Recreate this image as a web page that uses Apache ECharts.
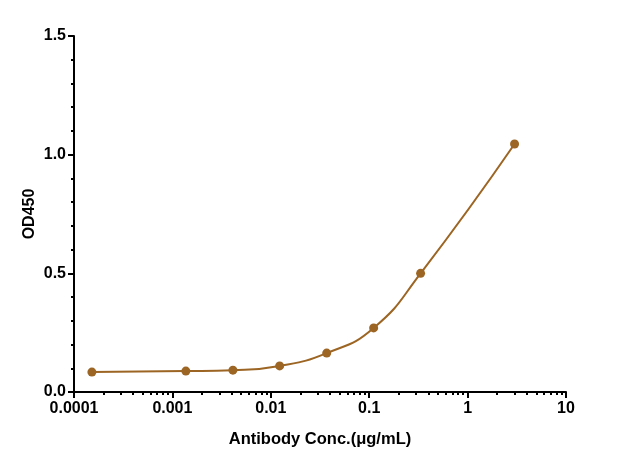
<!DOCTYPE html>
<html><head><meta charset="utf-8">
<script src="https://cdn.jsdelivr.net/npm/echarts@6/dist/echarts.min.js"></script>
<style>html,body{margin:0;padding:0;background:#fff}#c{width:623px;height:470px}</style>
</head><body><div id="c"></div>
<script>
const concentrations = [0.000152, 0.00137, 0.00412, 0.0123, 0.037, 0.111, 0.333, 3.0];
const od450 = [0.084, 0.088, 0.092, 0.110, 0.164, 0.270, 0.500, 1.045];
const xMajorTicks = [0.0001, 0.001, 0.01, 0.1, 1, 10];
const xTickLabels = ['0.0001', '0.001', '0.01', '0.1', '1', '10'];
const xMinorTicks = [];
for (let d = 0; d < 5; d++) { for (let m = 2; m <= 9; m++) { xMinorTicks.push(+(m * xMajorTicks[d]).toPrecision(3)); } }
const yTicks = [0, 0.5, 1.0, 1.5];

const color = '#9C6523';
const font = 'Liberation Sans, Arial, sans-serif';
const data = concentrations.map((c, i) => [c, od450[i]]);

function labelFor(v) {
  let best = 0, bd = Infinity;
  xMajorTicks.forEach((t, i) => { const d = Math.abs(Math.log10(v) - Math.log10(t)); if (d < bd) { bd = d; best = i; } });
  return xTickLabels[best];
}

const chart = echarts.init(document.getElementById('c'), null, {renderer: 'canvas'});
chart.setOption({
  animation: false,
  backgroundColor: '#fff',
  grid: {left: 74, right: 57, top: 36, bottom: 78, containLabel: false},
  xAxis: [{
    type: 'log', logBase: 10, min: 0.0001, max: 10,
    name: 'Antibody Conc.(μg/mL)', nameLocation: 'middle', nameGap: 39, nameMoveOverlap: false,
    nameTextStyle: {fontFamily: font, fontWeight: 'bold', fontSize: 16.5, color: '#000'},
    axisLine: {show: true, onZero: false, lineStyle: {color: '#000', width: 2}},
    axisTick: {show: true, length: 6, lineStyle: {color: '#000', width: 2}, customValues: xMajorTicks},
    axisLabel: {customValues: xMajorTicks, formatter: v => labelFor(v), fontFamily: font, fontWeight: 'bold', fontSize: 16, color: '#000', margin: 9},
    splitLine: {show: false}
  }, {
    type: 'log', logBase: 10, min: 0.0001, max: 10, position: 'bottom',
    axisLine: {show: false},
    axisTick: {show: true, length: 3, lineStyle: {color: '#000', width: 2}, customValues: xMinorTicks},
    axisLabel: {show: false},
    splitLine: {show: false}
  }],
  yAxis: {
    type: 'value', min: 0, max: 1.5, interval: 0.5,
    name: 'OD450', nameLocation: 'middle', nameGap: 36, nameRotate: 90, nameMoveOverlap: false,
    nameTextStyle: {fontFamily: font, fontWeight: 'bold', fontSize: 16, color: '#000'},
    axisLine: {show: true, lineStyle: {color: '#000', width: 2}},
    axisTick: {show: true, length: 6, lineStyle: {color: '#000', width: 2}},
    minorTick: {show: true, splitNumber: 5, length: 3, lineStyle: {color: '#000', width: 2}},
    axisLabel: {formatter: v => yTicks.includes(+v.toFixed(1)) ? v.toFixed(1) : '', fontFamily: font, fontWeight: 'bold', fontSize: 16, color: '#000', margin: 8},
    splitLine: {show: false}
  },
  series: [{
    type: 'line', xAxisIndex: 0, data: data, smooth: 0.5,
    symbol: 'circle', symbolSize: 9,
    lineStyle: {color: color, width: 2},
    itemStyle: {color: color}
  }]
});
</script></body></html>
